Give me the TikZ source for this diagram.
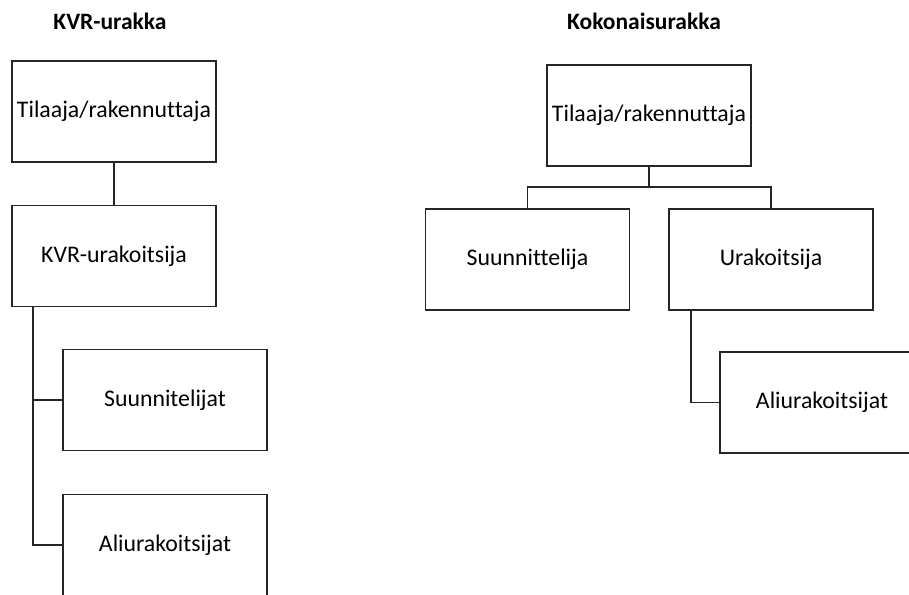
\documentclass[tikz,border=0pt]{standalone}
\usepackage{fontspec}
\setmainfont{Carlito}[Ligatures=NoCommon]
\usepackage{tikz}
\tikzset{orgbox/.style={draw=black!85,line width=1.2pt,minimum width=204pt,minimum height=101pt,inner sep=0pt,font=\fontsize{23.8}{28}\selectfont}}
\tikzset{orgline/.style={draw=black!85,line width=1.2pt}}

\begin{document}
\begin{tikzpicture}[x=1pt,y=-1pt]
\useasboundingbox (0,0) rectangle (909,594);

\begin{scope}
\node[font=\fontsize{23.5}{28}\selectfont\bfseries] (kvrtitle) at (110,21) {KVR-urakka};
\node[orgbox] (tilaajaA) at (114,111.5) {Tilaaja/rakennuttaja};
\node[orgbox] (kvrurak) at (114,256) {KVR-urakoitsija};
\node[orgbox] (suunnA) at (165,400) {Suunnitelijat};
\node[orgbox] (aliA) at (165,545) {Aliurakoitsijat};
\coordinate (kvrtrunk) at (33,307);

\draw[orgline] (tilaajaA) -- (kvrurak);
\draw[orgline] (kvrtrunk) |- (suunnA.west);
\draw[orgline] (kvrtrunk) |- (aliA.west);
\end{scope}

\begin{scope}
\node[font=\fontsize{23.5}{28}\selectfont\bfseries] (kokotitle) at (644,21) {Kokonaisurakka};
\node[orgbox] (tilaajaB) at (649,115.5) {Tilaaja/rakennuttaja};
\node[orgbox] (suunnB) at (527.5,259.5) {Suunnittelija};
\node[orgbox] (urakB) at (771,259.5) {Urakoitsija};
\node[orgbox] (aliB) at (822,402.5) {Aliurakoitsijat};
\coordinate (kokobranch) at (649,187);
\coordinate (uraktrunk) at (691,310);

\draw[orgline] (tilaajaB) -- (kokobranch);
\draw[orgline] (kokobranch) -| (suunnB.north);
\draw[orgline] (kokobranch) -| (urakB.north);
\draw[orgline] (uraktrunk) |- (aliB.west);
\end{scope}

\end{tikzpicture}
\end{document}
